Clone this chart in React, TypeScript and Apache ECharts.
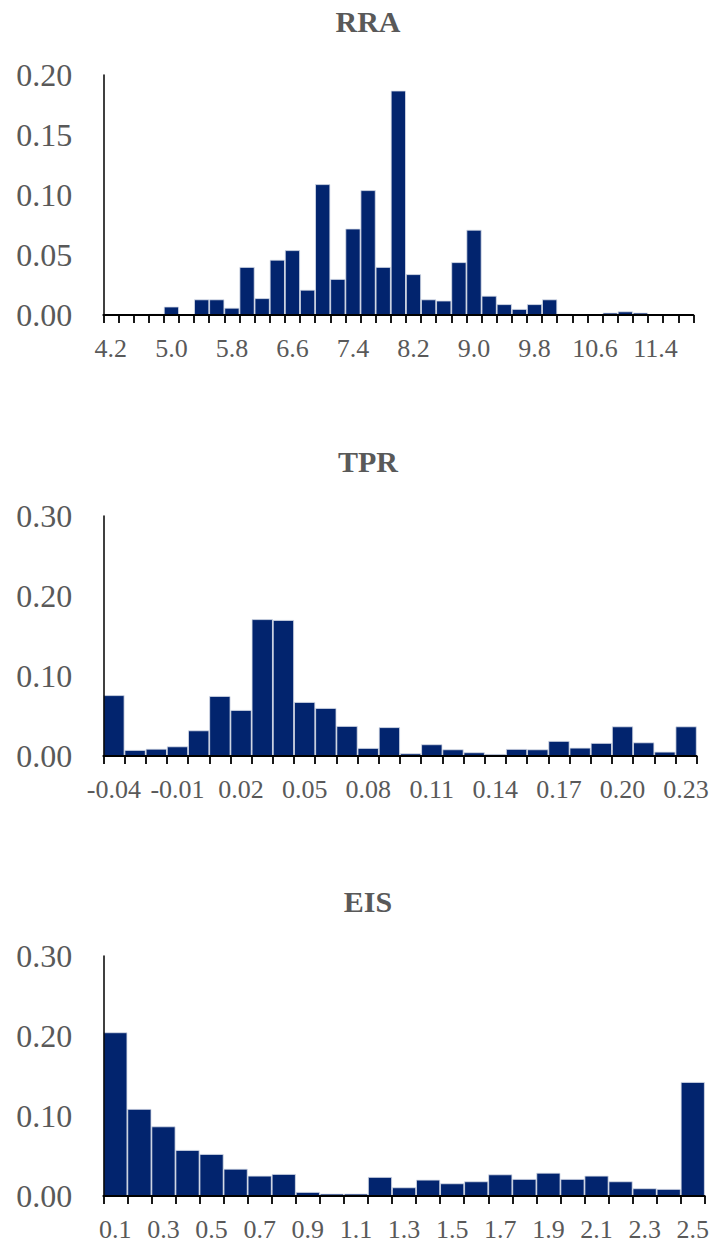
import React, { useEffect, useRef } from "react";
import * as echarts from "echarts";

const rraCategories = ["4.2","4.4","4.6","4.8","5.0","5.2","5.4","5.6","5.8","6.0","6.2","6.4","6.6","6.8","7.0","7.2","7.4","7.6","7.8","8.0","8.2","8.4","8.6","8.8","9.0","9.2","9.4","9.6","9.8","10.0","10.2","10.4","10.6","10.8","11.0","11.2","11.4","11.6","11.8"];
const rraValues = [0,0,0,0.001,0.007,0,0.013,0.013,0.006,0.040,0.014,0.046,0.054,0.021,0.109,0.030,0.072,0.104,0.040,0.187,0.034,0.013,0.012,0.044,0.071,0.016,0.009,0.005,0.009,0.013,0.001,0,0,0.002,0.003,0.002,0,0,0];

const tprCategories = ["-0.04","-0.03","-0.02","-0.01","0.00","0.01","0.02","0.03","0.04","0.05","0.06","0.07","0.08","0.09","0.10","0.11","0.12","0.13","0.14","0.15","0.16","0.17","0.18","0.19","0.20","0.21","0.22","0.23"];
const tprValues = [0.076,0.0075,0.009,0.012,0.032,0.075,0.0575,0.171,0.170,0.0675,0.060,0.0375,0.010,0.036,0.0033,0.0146,0.0083,0.0046,0.0025,0.0088,0.0083,0.0188,0.0104,0.0163,0.037,0.017,0.0054,0.037];

const eisCategories = ["0.1","0.2","0.3","0.4","0.5","0.6","0.7","0.8","0.9","1.0","1.1","1.2","1.3","1.4","1.5","1.6","1.7","1.8","1.9","2.0","2.1","2.2","2.3","2.4","2.5"];
const eisValues = [0.2046,0.1088,0.087,0.0575,0.0525,0.034,0.0254,0.0275,0.005,0.003,0.003,0.0238,0.0108,0.0204,0.0158,0.0183,0.027,0.0213,0.029,0.0213,0.0254,0.0183,0.0096,0.0088,0.1425];

const titles = ["RRA", "TPR", "EIS"];

const FONT = "'Liberation Serif', 'Times New Roman', serif";
const GRAY = "#595959";
const BAR = "#02246E";

export default function App() {
  const ref = useRef<HTMLDivElement>(null);
  useEffect(() => {
    if (!ref.current) return;
    const chart = echarts.init(ref.current, null, { renderer: "svg" });
    const panels = [
      { cats: rraCategories, vals: rraValues, top: 75, right: 18.6, max: 0.2, step: 0.05, every: 3, titleY: 21 },
      { cats: tprCategories, vals: tprValues, top: 516, right: 15.3, max: 0.3, step: 0.1, every: 2, titleY: 461 },
      { cats: eisCategories, vals: eisValues, top: 956, right: 6.7, max: 0.3, step: 0.1, every: 1, titleY: 901 },
    ];
    chart.setOption({
      animation: false,
      backgroundColor: "#ffffff",
      grid: panels.map((p) => ({ left: 103.3, right: p.right, top: p.top, height: 240, containLabel: false })),
      xAxis: panels.map((p, i) => ({
        type: "category",
        gridIndex: i,
        data: p.cats,
        z: 10,
        axisLine: { show: true, lineStyle: { color: "#000", width: 1.8 } },
        axisTick: { show: true, interval: 0, length: 8, lineStyle: { color: "#000", width: 1.8 } },
        axisLabel: { interval: p.every, margin: 20, color: GRAY, fontFamily: FONT, fontSize: 26 },
        splitLine: { show: false },
      })),
      yAxis: panels.map((p, i) => ({
        type: "value",
        gridIndex: i,
        min: 0,
        max: p.max,
        interval: p.step,
        z: 10,
        axisLine: { show: true, lineStyle: { color: "#000", width: 1.5 } },
        axisTick: { show: false },
        splitLine: { show: false },
        axisLabel: { margin: 31, color: GRAY, fontFamily: FONT, fontSize: 32, formatter: (v: number) => v.toFixed(2) },
      })),
      series: panels.map((p, i) => ({
        type: "bar",
        xAxisIndex: i,
        yAxisIndex: i,
        data: p.vals,
        barCategoryGap: "0%",
        itemStyle: { color: BAR, borderColor: "#d8dde8", borderWidth: 0.8 },
      })),
      graphic: panels.map((p, i) => ({
        type: "text",
        x: 368,
        y: p.titleY,
        style: {
          text: titles[i],
          fill: GRAY,
          font: `bold 30px ${FONT}`,
          textAlign: "center",
          textVerticalAlign: "middle",
          align: "center",
          verticalAlign: "middle",
        },
      })),
    });
    return () => chart.dispose();
  }, []);
  return <div ref={ref} style={{ position: "absolute", left: 0, top: 0, width: 712, height: 1244 }} />;
}
